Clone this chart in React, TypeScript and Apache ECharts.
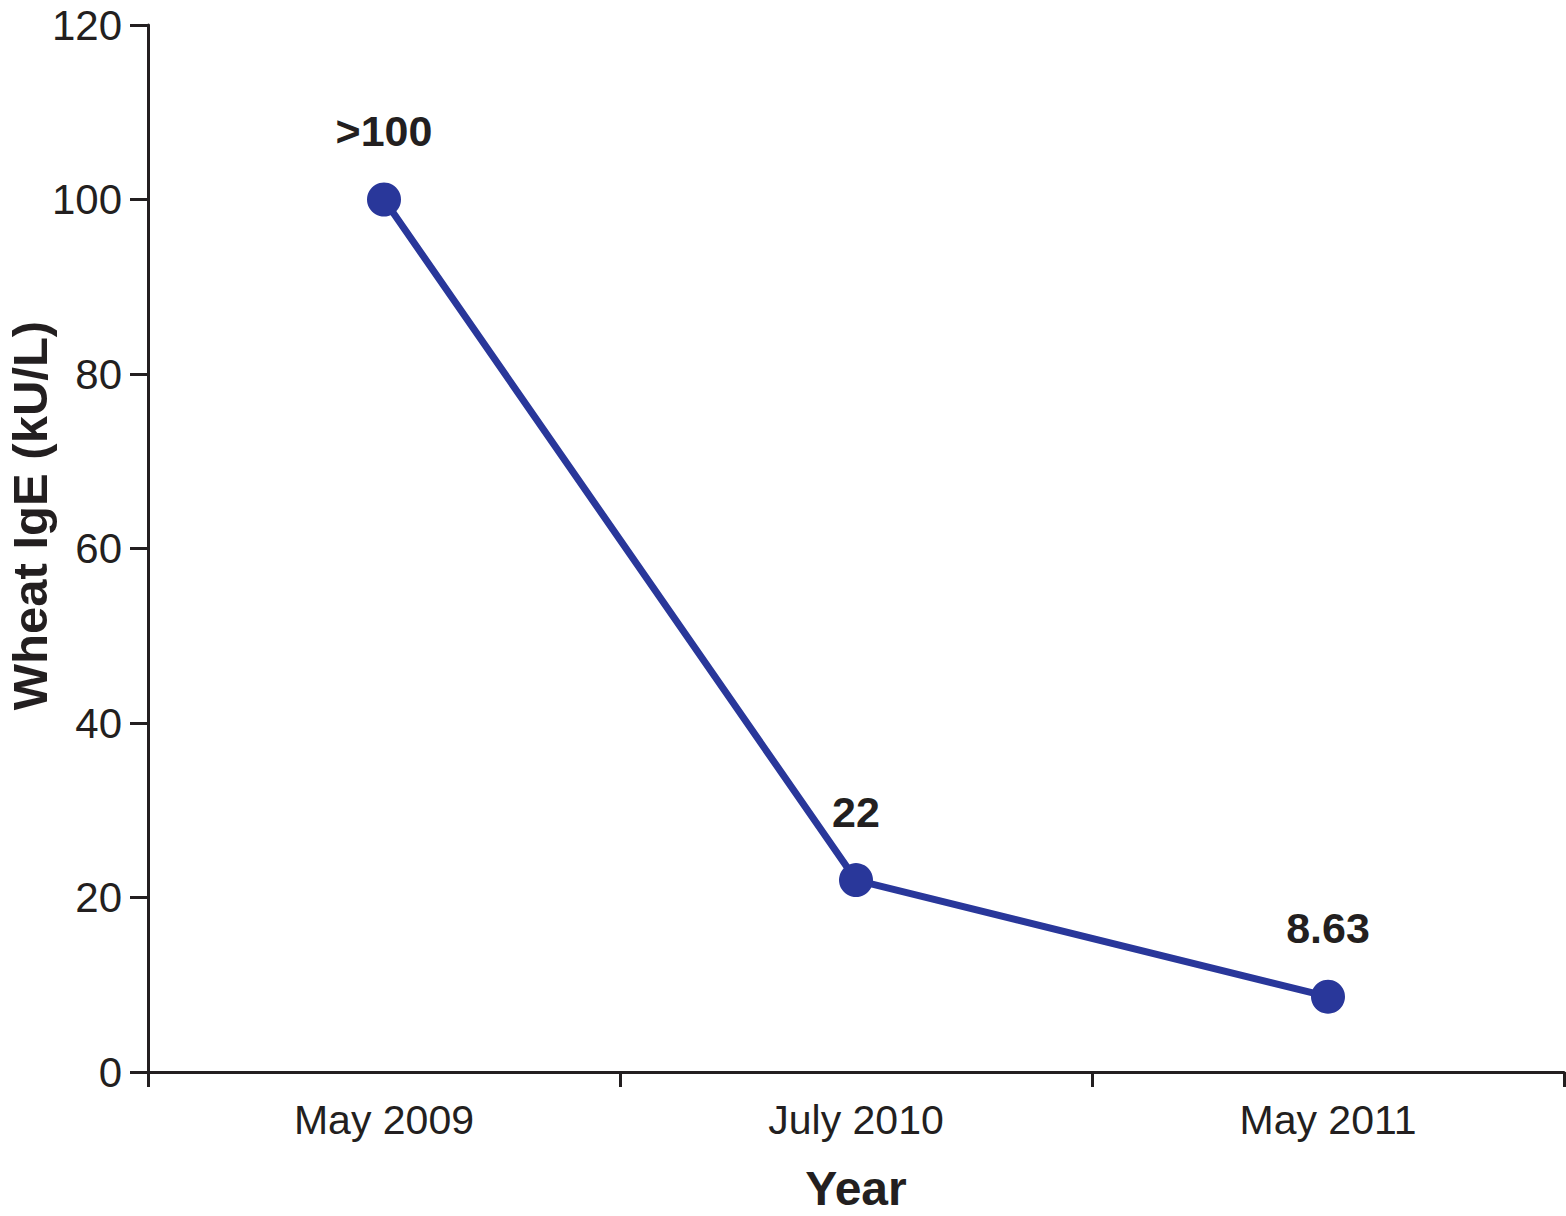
import React, { useEffect, useRef } from "react";
import * as echarts from "echarts";

const categories = ["May 2009", "July 2010", "May 2011"];
const values = [100, 22, 8.63];
const pointLabels = [">100", "22", "8.63"];
const yTicks = { min: 0, max: 120, interval: 20 };

const INK = "#231f20";
const BLUE = "#29379a";
const FONT = "'Liberation Sans', Arial, Helvetica, sans-serif";

export default function App() {
  const ref = useRef<HTMLDivElement>(null);
  useEffect(() => {
    if (!ref.current) return;
    const chart = echarts.init(ref.current, null, { renderer: "svg" });
    chart.setOption({
      animation: false,
      backgroundColor: "#ffffff",
      grid: {
        left: 148,
        right: 2,
        top: 25,
        bottom: 144,
        containLabel: false,
        outerBoundsMode: "none",
      },
      xAxis: {
        type: "category",
        data: categories,
        boundaryGap: true,
        name: "Year",
        nameLocation: "middle",
        nameGap: 92,
        nameMoveOverlap: false,
        nameTextStyle: { fontFamily: FONT, fontSize: 48, fontWeight: "bold", color: INK },
        axisLine: { show: true, lineStyle: { color: INK, width: 3 } },
        axisTick: { show: true, length: 15, lineStyle: { color: INK, width: 3 } },
        axisLabel: { fontFamily: FONT, fontSize: 41, color: INK, margin: 27 },
        splitLine: { show: false },
      },
      yAxis: {
        type: "value",
        min: yTicks.min,
        max: yTicks.max,
        interval: yTicks.interval,
        name: "Wheat IgE (kU/L)",
        nameLocation: "middle",
        nameGap: 94,
        nameRotate: 90,
        nameMoveOverlap: false,
        nameTextStyle: {
          fontFamily: FONT,
          fontSize: 49,
          fontWeight: "bold",
          color: INK,
          padding: [0, 0, 0, 66],
        },
        axisLine: { show: true, lineStyle: { color: INK, width: 3 } },
        axisTick: { show: true, length: 18, lineStyle: { color: INK, width: 3 } },
        axisLabel: { fontFamily: FONT, fontSize: 42, color: INK, margin: 26 },
        splitLine: { show: false },
      },
      series: [
        {
          type: "line",
          data: values,
          symbol: "circle",
          symbolSize: 34,
          itemStyle: { color: BLUE },
          lineStyle: { color: BLUE, width: 7 },
          label: {
            show: true,
            position: "top",
            distance: 30,
            fontFamily: FONT,
            fontSize: 43,
            fontWeight: "bold",
            color: INK,
            formatter: (p: any) => pointLabels[p.dataIndex],
          },
        },
      ],
    });
    return () => chart.dispose();
  }, []);
  return (
    <div
      ref={ref}
      style={{ position: "absolute", left: 0, top: 0, width: 1566, height: 1216 }}
    />
  );
}
